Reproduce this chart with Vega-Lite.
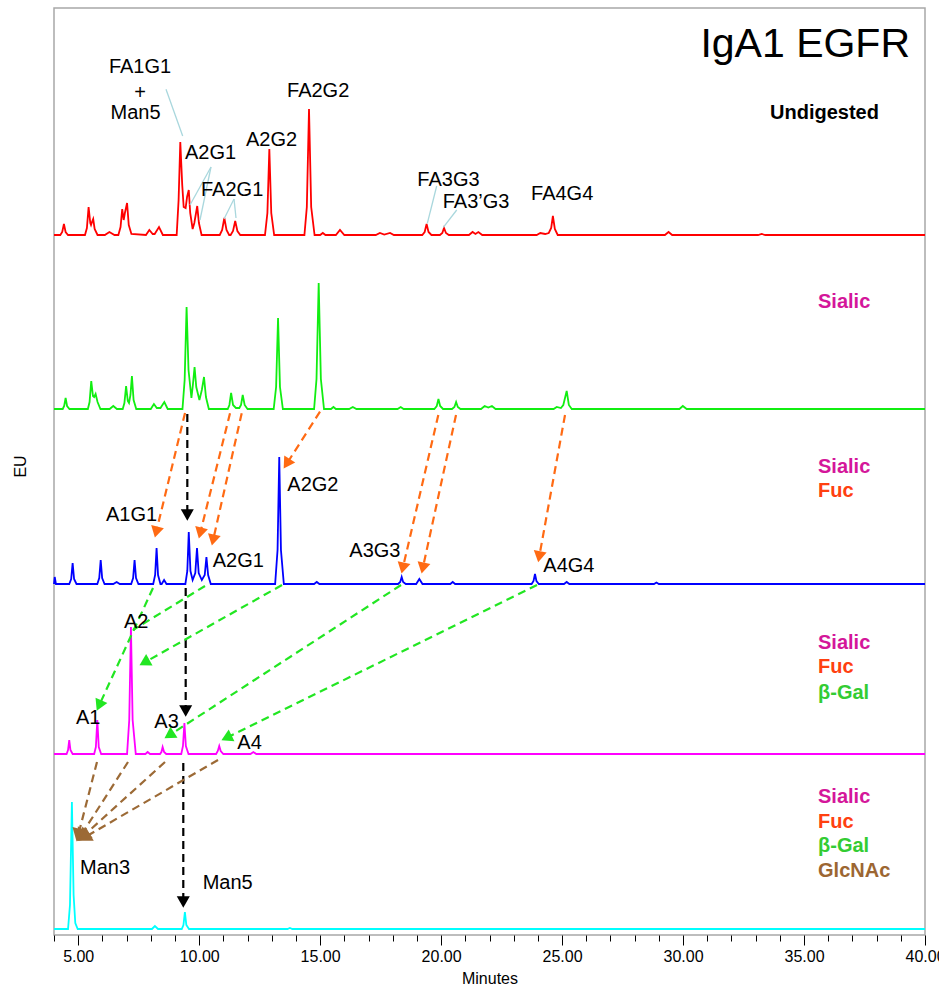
{
"$schema": "https://vega.github.io/schema/vega-lite/v6.json",
"width": 871, "height": 927,
"autosize": {"type": "none"},
"padding": {"left": 54, "top": 8, "right": 14, "bottom": 55},
"background": "white",
"config": {"view": {"stroke": "#a8a8a8", "strokeWidth": 1.5}, "font": "Liberation Sans"},
"datasets": {
"traces": [
{"t":"undigested","x":4.0,"y":700},{"t":"undigested","x":4.26,"y":700},{"t":"undigested","x":4.34,"y":703},{"t":"undigested","x":4.41,"y":711},{"t":"undigested","x":4.48,"y":703},{"t":"undigested","x":4.58,"y":700},
{"t":"undigested","x":5.28,"y":700},{"t":"undigested","x":5.36,"y":707},{"t":"undigested","x":5.43,"y":728},{"t":"undigested","x":5.50,"y":712},{"t":"undigested","x":5.53,"y":710},{"t":"undigested","x":5.57,"y":713},{"t":"undigested","x":5.62,"y":716},{"t":"undigested","x":5.68,"y":706},{"t":"undigested","x":5.80,"y":700},
{"t":"undigested","x":6.10,"y":700},{"t":"undigested","x":6.29,"y":703},{"t":"undigested","x":6.50,"y":700},
{"t":"undigested","x":6.66,"y":700},{"t":"undigested","x":6.75,"y":708},{"t":"undigested","x":6.82,"y":726},{"t":"undigested","x":6.88,"y":715},{"t":"undigested","x":6.93,"y":722},{"t":"undigested","x":7.02,"y":732},{"t":"undigested","x":7.09,"y":710},{"t":"undigested","x":7.20,"y":701},
{"t":"undigested","x":7.80,"y":700},{"t":"undigested","x":7.94,"y":705},{"t":"undigested","x":8.08,"y":701},{"t":"undigested","x":8.16,"y":701},{"t":"undigested","x":8.34,"y":708},{"t":"undigested","x":8.50,"y":700},
{"t":"undigested","x":9.07,"y":700},{"t":"undigested","x":9.15,"y":735},{"t":"undigested","x":9.22,"y":793},{"t":"undigested","x":9.30,"y":750},{"t":"undigested","x":9.36,"y":728},{"t":"undigested","x":9.44,"y":727},{"t":"undigested","x":9.50,"y":738},{"t":"undigested","x":9.57,"y":745},{"t":"undigested","x":9.63,"y":722},{"t":"undigested","x":9.73,"y":706},{"t":"undigested","x":9.80,"y":712},{"t":"undigested","x":9.92,"y":729},{"t":"undigested","x":9.99,"y":712},{"t":"undigested","x":10.10,"y":700},
{"t":"undigested","x":10.85,"y":700},{"t":"undigested","x":10.95,"y":705},{"t":"undigested","x":11.04,"y":717},{"t":"undigested","x":11.13,"y":705},{"t":"undigested","x":11.24,"y":700},{"t":"undigested","x":11.30,"y":700},{"t":"undigested","x":11.40,"y":704},{"t":"undigested","x":11.49,"y":714},{"t":"undigested","x":11.58,"y":704},{"t":"undigested","x":11.70,"y":700},
{"t":"undigested","x":12.72,"y":700},{"t":"undigested","x":12.82,"y":722},{"t":"undigested","x":12.90,"y":786},{"t":"undigested","x":12.98,"y":722},{"t":"undigested","x":13.10,"y":700},
{"t":"undigested","x":14.35,"y":700},{"t":"undigested","x":14.45,"y":728},{"t":"undigested","x":14.54,"y":826},{"t":"undigested","x":14.63,"y":728},{"t":"undigested","x":14.77,"y":700},
{"t":"undigested","x":15.00,"y":700},{"t":"undigested","x":15.11,"y":702},{"t":"undigested","x":15.22,"y":700},{"t":"undigested","x":15.65,"y":700},{"t":"undigested","x":15.82,"y":705},{"t":"undigested","x":16.00,"y":700},
{"t":"undigested","x":17.30,"y":700},{"t":"undigested","x":17.47,"y":702},{"t":"undigested","x":17.65,"y":700.5},{"t":"undigested","x":17.89,"y":702},{"t":"undigested","x":18.05,"y":700},
{"t":"undigested","x":19.22,"y":700},{"t":"undigested","x":19.32,"y":703},{"t":"undigested","x":19.40,"y":711},{"t":"undigested","x":19.48,"y":703},{"t":"undigested","x":19.60,"y":700},
{"t":"undigested","x":19.95,"y":700},{"t":"undigested","x":20.05,"y":702},{"t":"undigested","x":20.12,"y":707},{"t":"undigested","x":20.20,"y":702},{"t":"undigested","x":20.32,"y":700},
{"t":"undigested","x":21.15,"y":700},{"t":"undigested","x":21.30,"y":703},{"t":"undigested","x":21.42,"y":701},{"t":"undigested","x":21.54,"y":703},{"t":"undigested","x":21.70,"y":700},
{"t":"undigested","x":23.95,"y":700},{"t":"undigested","x":24.10,"y":702},{"t":"undigested","x":24.30,"y":701},{"t":"undigested","x":24.45,"y":702},{"t":"undigested","x":24.55,"y":707},{"t":"undigested","x":24.62,"y":719},{"t":"undigested","x":24.70,"y":706},{"t":"undigested","x":24.82,"y":700},
{"t":"undigested","x":29.25,"y":700},{"t":"undigested","x":29.40,"y":703},{"t":"undigested","x":29.55,"y":700},{"t":"undigested","x":33.10,"y":700},{"t":"undigested","x":33.25,"y":701},{"t":"undigested","x":33.40,"y":700},{"t":"undigested","x":40,"y":700},

{"t":"sialic","x":4.0,"y":526},{"t":"sialic","x":4.36,"y":526},{"t":"sialic","x":4.42,"y":529},{"t":"sialic","x":4.48,"y":537},{"t":"sialic","x":4.54,"y":529},{"t":"sialic","x":4.64,"y":526},
{"t":"sialic","x":5.40,"y":526},{"t":"sialic","x":5.47,"y":533},{"t":"sialic","x":5.54,"y":554},{"t":"sialic","x":5.61,"y":539},{"t":"sialic","x":5.66,"y":538},{"t":"sialic","x":5.72,"y":541},{"t":"sialic","x":5.80,"y":533},{"t":"sialic","x":5.92,"y":526},
{"t":"sialic","x":6.30,"y":526},{"t":"sialic","x":6.45,"y":529},{"t":"sialic","x":6.60,"y":526},
{"t":"sialic","x":6.84,"y":526},{"t":"sialic","x":6.91,"y":532},{"t":"sialic","x":6.98,"y":549},{"t":"sialic","x":7.05,"y":534},{"t":"sialic","x":7.10,"y":532},{"t":"sialic","x":7.16,"y":540},{"t":"sialic","x":7.22,"y":559},{"t":"sialic","x":7.29,"y":535},{"t":"sialic","x":7.40,"y":526},
{"t":"sialic","x":8.00,"y":526},{"t":"sialic","x":8.13,"y":531},{"t":"sialic","x":8.25,"y":527},{"t":"sialic","x":8.40,"y":527},{"t":"sialic","x":8.56,"y":533},{"t":"sialic","x":8.70,"y":526},
{"t":"sialic","x":9.31,"y":526},{"t":"sialic","x":9.40,"y":555},{"t":"sialic","x":9.48,"y":628},{"t":"sialic","x":9.56,"y":565},{"t":"sialic","x":9.68,"y":537},{"t":"sialic","x":9.74,"y":550},{"t":"sialic","x":9.81,"y":568},{"t":"sialic","x":9.88,"y":548},{"t":"sialic","x":10.01,"y":535},{"t":"sialic","x":10.11,"y":545},{"t":"sialic","x":10.20,"y":558},{"t":"sialic","x":10.28,"y":538},{"t":"sialic","x":10.40,"y":526},
{"t":"sialic","x":11.18,"y":526},{"t":"sialic","x":11.25,"y":530},{"t":"sialic","x":11.32,"y":542},{"t":"sialic","x":11.40,"y":530},{"t":"sialic","x":11.52,"y":527},{"t":"sialic","x":11.66,"y":527},{"t":"sialic","x":11.73,"y":530},{"t":"sialic","x":11.80,"y":540},{"t":"sialic","x":11.88,"y":530},{"t":"sialic","x":12.00,"y":526},
{"t":"sialic","x":13.08,"y":526},{"t":"sialic","x":13.18,"y":548},{"t":"sialic","x":13.26,"y":617},{"t":"sialic","x":13.34,"y":548},{"t":"sialic","x":13.46,"y":526},
{"t":"sialic","x":14.75,"y":526},{"t":"sialic","x":14.85,"y":556},{"t":"sialic","x":14.94,"y":652},{"t":"sialic","x":15.03,"y":556},{"t":"sialic","x":15.16,"y":526},
{"t":"sialic","x":15.45,"y":526},{"t":"sialic","x":15.55,"y":528},{"t":"sialic","x":15.65,"y":526},{"t":"sialic","x":16.20,"y":526},{"t":"sialic","x":16.35,"y":528},{"t":"sialic","x":16.50,"y":526},
{"t":"sialic","x":18.20,"y":526},{"t":"sialic","x":18.33,"y":528},{"t":"sialic","x":18.45,"y":526},
{"t":"sialic","x":19.72,"y":526},{"t":"sialic","x":19.82,"y":529},{"t":"sialic","x":19.89,"y":536},{"t":"sialic","x":19.96,"y":529},{"t":"sialic","x":20.08,"y":526},
{"t":"sialic","x":20.45,"y":526},{"t":"sialic","x":20.55,"y":528},{"t":"sialic","x":20.62,"y":533},{"t":"sialic","x":20.69,"y":528},{"t":"sialic","x":20.80,"y":526},
{"t":"sialic","x":21.65,"y":526},{"t":"sialic","x":21.80,"y":529},{"t":"sialic","x":21.95,"y":527.5},{"t":"sialic","x":22.10,"y":529},{"t":"sialic","x":22.25,"y":526},
{"t":"sialic","x":24.65,"y":526},{"t":"sialic","x":24.78,"y":528},{"t":"sialic","x":24.95,"y":527},{"t":"sialic","x":25.05,"y":530},{"t":"sialic","x":25.19,"y":544},{"t":"sialic","x":25.28,"y":530},{"t":"sialic","x":25.40,"y":526},
{"t":"sialic","x":29.85,"y":526},{"t":"sialic","x":29.99,"y":529},{"t":"sialic","x":30.15,"y":526},{"t":"sialic","x":40,"y":526},

{"t":"fuc","x":4.0,"y":351},{"t":"fuc","x":4.03,"y":358},{"t":"fuc","x":4.08,"y":351},
{"t":"fuc","x":4.63,"y":351},{"t":"fuc","x":4.71,"y":356},{"t":"fuc","x":4.77,"y":372},{"t":"fuc","x":4.83,"y":356},{"t":"fuc","x":4.93,"y":351},
{"t":"fuc","x":5.79,"y":351},{"t":"fuc","x":5.87,"y":357},{"t":"fuc","x":5.93,"y":375},{"t":"fuc","x":5.99,"y":357},{"t":"fuc","x":6.09,"y":351},
{"t":"fuc","x":6.45,"y":351},{"t":"fuc","x":6.59,"y":353},{"t":"fuc","x":6.72,"y":351},
{"t":"fuc","x":7.19,"y":351},{"t":"fuc","x":7.27,"y":357},{"t":"fuc","x":7.33,"y":375},{"t":"fuc","x":7.39,"y":357},{"t":"fuc","x":7.49,"y":351},
{"t":"fuc","x":8.10,"y":351},{"t":"fuc","x":8.18,"y":360},{"t":"fuc","x":8.24,"y":387},{"t":"fuc","x":8.30,"y":360},{"t":"fuc","x":8.40,"y":351},
{"t":"fuc","x":8.45,"y":351},{"t":"fuc","x":8.55,"y":355},{"t":"fuc","x":8.65,"y":351},
{"t":"fuc","x":9.43,"y":351},{"t":"fuc","x":9.51,"y":364},{"t":"fuc","x":9.57,"y":403},{"t":"fuc","x":9.64,"y":364},{"t":"fuc","x":9.73,"y":355},{"t":"fuc","x":9.84,"y":362},{"t":"fuc","x":9.91,"y":387},{"t":"fuc","x":9.98,"y":362},{"t":"fuc","x":10.11,"y":355},{"t":"fuc","x":10.23,"y":360},{"t":"fuc","x":10.30,"y":378},{"t":"fuc","x":10.37,"y":360},{"t":"fuc","x":10.48,"y":351},
{"t":"fuc","x":13.14,"y":351},{"t":"fuc","x":13.24,"y":385},{"t":"fuc","x":13.31,"y":478},{"t":"fuc","x":13.38,"y":385},{"t":"fuc","x":13.50,"y":351},
{"t":"fuc","x":14.75,"y":351},{"t":"fuc","x":14.86,"y":353},{"t":"fuc","x":14.97,"y":351},
{"t":"fuc","x":18.22,"y":351},{"t":"fuc","x":18.31,"y":353},{"t":"fuc","x":18.37,"y":358},{"t":"fuc","x":18.43,"y":353},{"t":"fuc","x":18.54,"y":351},
{"t":"fuc","x":18.97,"y":351},{"t":"fuc","x":19.10,"y":356},{"t":"fuc","x":19.23,"y":351},
{"t":"fuc","x":20.38,"y":351},{"t":"fuc","x":20.48,"y":353},{"t":"fuc","x":20.58,"y":351},
{"t":"fuc","x":23.74,"y":351},{"t":"fuc","x":23.82,"y":354},{"t":"fuc","x":23.88,"y":361},{"t":"fuc","x":23.94,"y":354},{"t":"fuc","x":24.04,"y":351},
{"t":"fuc","x":25.08,"y":351},{"t":"fuc","x":25.19,"y":353},{"t":"fuc","x":25.30,"y":351},
{"t":"fuc","x":28.80,"y":351},{"t":"fuc","x":28.90,"y":352.5},{"t":"fuc","x":29.00,"y":351},{"t":"fuc","x":40,"y":351},

{"t":"bgal","x":4.0,"y":181},{"t":"bgal","x":4.52,"y":181},{"t":"bgal","x":4.58,"y":185},{"t":"bgal","x":4.63,"y":195},{"t":"bgal","x":4.68,"y":185},{"t":"bgal","x":4.77,"y":181},
{"t":"bgal","x":5.66,"y":181},{"t":"bgal","x":5.73,"y":188},{"t":"bgal","x":5.79,"y":215},{"t":"bgal","x":5.85,"y":188},{"t":"bgal","x":5.95,"y":181},
{"t":"bgal","x":7.02,"y":181},{"t":"bgal","x":7.11,"y":215},{"t":"bgal","x":7.18,"y":308},{"t":"bgal","x":7.25,"y":215},{"t":"bgal","x":7.38,"y":181},
{"t":"bgal","x":7.78,"y":181},{"t":"bgal","x":7.87,"y":183},{"t":"bgal","x":7.97,"y":181},
{"t":"bgal","x":8.38,"y":181},{"t":"bgal","x":8.44,"y":183},{"t":"bgal","x":8.49,"y":188},{"t":"bgal","x":8.55,"y":183},{"t":"bgal","x":8.64,"y":181},
{"t":"bgal","x":9.26,"y":181},{"t":"bgal","x":9.33,"y":189},{"t":"bgal","x":9.39,"y":212},{"t":"bgal","x":9.45,"y":189},{"t":"bgal","x":9.56,"y":181},
{"t":"bgal","x":10.70,"y":181},{"t":"bgal","x":10.77,"y":184},{"t":"bgal","x":10.83,"y":189},{"t":"bgal","x":10.89,"y":184},{"t":"bgal","x":11.00,"y":181},
{"t":"bgal","x":12.12,"y":181},{"t":"bgal","x":12.24,"y":183},{"t":"bgal","x":12.36,"y":181},{"t":"bgal","x":40,"y":181},

{"t":"glcnac","x":4.0,"y":6},{"t":"glcnac","x":4.58,"y":6},{"t":"glcnac","x":4.66,"y":30},{"t":"glcnac","x":4.74,"y":133},{"t":"glcnac","x":4.81,"y":40},{"t":"glcnac","x":4.88,"y":12},{"t":"glcnac","x":4.98,"y":6},
{"t":"glcnac","x":8.05,"y":6},{"t":"glcnac","x":8.17,"y":9},{"t":"glcnac","x":8.30,"y":6},
{"t":"glcnac","x":9.28,"y":6},{"t":"glcnac","x":9.35,"y":10},{"t":"glcnac","x":9.41,"y":23},{"t":"glcnac","x":9.47,"y":10},{"t":"glcnac","x":9.58,"y":6},
{"t":"glcnac","x":13.65,"y":6},{"t":"glcnac","x":13.75,"y":7},{"t":"glcnac","x":13.85,"y":6},{"t":"glcnac","x":40,"y":6}
],
"leaders": [
{"x":8.629,"y":845.7,"x2":9.319,"y2":799},
{"x":10.489,"y":768,"x2":9.621,"y2":730},
{"x":10.489,"y":768,"x2":10.034,"y2":715},
{"x":11.440,"y":736,"x2":11.027,"y2":716},
{"x":11.440,"y":736,"x2":11.523,"y2":717},
{"x":19.818,"y":749,"x2":19.430,"y2":711.7},
{"x":20.645,"y":725,"x2":20.091,"y2":707.7}
],
"arrows": [
{"g":"Fuc","x":9.415,"y":522,"x2":8.224,"y2":402.9,"head":true},
{"g":"Fuc","x":11.275,"y":521.7,"x2":10.043,"y2":401.9,"head":true},
{"g":"Fuc","x":11.758,"y":521.7,"x2":10.576,"y2":394.9,"head":true},
{"g":"Fuc","x":14.994,"y":523.3,"x2":13.618,"y2":471.2,"head":true},
{"g":"Fuc","x":19.884,"y":520,"x2":18.416,"y2":366.9,"head":true},
{"g":"Fuc","x":20.616,"y":520,"x2":19.243,"y2":366.9,"head":true},
{"g":"Fuc","x":25.121,"y":520,"x2":24.054,"y2":378.2,"head":true},
{"g":"Man5","x":9.510,"y":521,"x2":9.510,"y2":420,"head":true},
{"g":"Man5","x":9.443,"y":347,"x2":9.443,"y2":224,"head":true},
{"g":"Man5","x":9.344,"y":172,"x2":9.344,"y2":33,"head":true},
{"g":"bGal","x":8.092,"y":347,"x2":5.864,"y2":229.5,"head":true},
{"g":"bGal","x":10.241,"y":349,"x2":7.265,"y2":305,"head":false},
{"g":"bGal","x":13.424,"y":350,"x2":7.737,"y2":272.5,"head":true},
{"g":"bGal","x":18.343,"y":350,"x2":8.762,"y2":199.7,"head":true},
{"g":"bGal","x":23.964,"y":350,"x2":11.130,"y2":197.2,"head":true},
{"g":"GlcNAc","x":5.777,"y":173,"x2":5.000,"y2":99.8,"head":true},
{"g":"GlcNAc","x":7.059,"y":173,"x2":5.104,"y2":99.2,"head":true},
{"g":"GlcNAc","x":8.588,"y":173,"x2":5.186,"y2":98.4,"head":true},
{"g":"GlcNAc","x":10.779,"y":175,"x2":5.252,"y2":97.5,"head":true}
],
"peakLabels": [
{"x":9.414,"y":776,"text":"A2G1"},
{"x":10.076,"y":739.3,"text":"FA2G1"},
{"x":11.936,"y":789.3,"text":"A2G2"},
{"x":13.631,"y":838.3,"text":"FA2G2"},
{"x":19.016,"y":749,"text":"FA3G3"},
{"x":20.066,"y":726.7,"text":"FA3’G3"},
{"x":23.716,"y":735,"text":"FA4G4"},
{"x":6.149,"y":414.3,"text":"A1G1"},
{"x":13.643,"y":444.3,"text":"A2G2"},
{"x":10.559,"y":368.3,"text":"A2G1"},
{"x":16.205,"y":377.7,"text":"A3G3"},
{"x":24.224,"y":363.3,"text":"A4G4"},
{"x":4.909,"y":210.7,"text":"A1"},
{"x":6.893,"y":306.7,"text":"A2"},
{"x":8.146,"y":206.7,"text":"A3"},
{"x":11.576,"y":185.7,"text":"A4"},
{"x":5.075,"y":60.7,"text":"Man3"},
{"x":10.146,"y":45.7,"text":"Man5"}
],
"centerLabels": [
{"x":7.555,"y":862.3,"text":"FA1G1"},
{"x":7.555,"y":836,"text":"+"},
{"x":7.369,"y":816,"text":"Man5"}
],
"titleText": [{"x":39.381,"y":878,"text":"IgA1 EGFR"}],
"conditions": [
{"x":33.594,"y":816.3,"text":"Undigested"},
{"x":35.578,"y":627,"text":"Sialic"},
{"x":35.578,"y":462.3,"text":"Sialic"},
{"x":35.578,"y":437.7,"text":"Fuc"},
{"x":35.578,"y":285.7,"text":"Sialic"},
{"x":35.578,"y":261.7,"text":"Fuc"},
{"x":35.578,"y":236.3,"text":"β-Gal"},
{"x":35.578,"y":132.3,"text":"Sialic"},
{"x":35.578,"y":107.3,"text":"Fuc"},
{"x":35.578,"y":82.7,"text":"β-Gal"},
{"x":35.578,"y":57.7,"text":"GlcNAc"}
]
},
"encoding": {
"x": {"field": "x", "type": "quantitative",
  "scale": {"domain": [4, 40], "nice": false, "zero": false},
  "axis": {"title": "Minutes", "values": [4,5,6,7,8,9,10,11,12,13,14,15,16,17,18,19,20,21,22,23,24,25,26,27,28,29,30,31,32,33,34,35,36,37,38,39,40],
    "labelExpr": "datum.value % 5 === 0 ? format(datum.value, '.2f') : ''",
    "tickSize": {"condition": {"test": "datum.value % 5 === 0", "value": 10}, "value": 6},
    "tickColor": "#000000", "tickWidth": 1, "domain": false, "grid": false,
    "labelFont": "Liberation Sans", "labelFontSize": 16, "labelColor": "#000000", "labelPadding": 3,
    "labelOverlap": false, "labelFlush": false,
    "titleFont": "Liberation Sans", "titleFontSize": 16, "titleFontWeight": "normal", "titleColor": "#000000", "titlePadding": 6}},
"y": {"field": "y", "type": "quantitative",
  "scale": {"domain": [0, 927], "nice": false, "zero": false},
  "axis": {"title": "EU", "labels": false, "ticks": false, "domain": false, "grid": false,
    "titleFont": "Liberation Sans", "titleFontSize": 16, "titleFontWeight": "normal", "titleColor": "#000000", "titlePadding": 26, "titleY": 458}}
},
"layer": [
{"data": {"name": "traces"}, "mark": {"type": "line", "strokeWidth": 1.8},
 "encoding": {"color": {"field": "t", "type": "nominal", "legend": null,
   "scale": {"domain": ["undigested","sialic","fuc","bgal","glcnac"], "range": ["#ff0000","#11ee11","#0000ff","#ff00ff","#00ffff"]}}}},
{"data": {"name": "leaders"}, "mark": {"type": "rule", "color": "#a9d7dd", "strokeWidth": 1.3},
 "encoding": {"x2": {"field": "x2"}, "y2": {"field": "y2"}}},
{"data": {"name": "arrows"}, "mark": {"type": "rule", "strokeWidth": 2.2, "strokeDash": [8, 5]},
 "encoding": {"x2": {"field": "x2"}, "y2": {"field": "y2"},
   "color": {"field": "g", "type": "nominal", "legend": null,
   "scale": {"domain": ["Fuc","Man5","bGal","GlcNAc"], "range": ["#ff6a13","#000000","#22e622","#9c6a36"]}}}},
{"data": {"name": "arrows"},
 "transform": [{"filter": "datum.head"}, {"calculate": "atan2((datum.x2 - datum.x) * 24.194, datum.y2 - datum.y) * 180 / PI", "as": "ang"}],
 "mark": {"type": "point", "shape": "triangle-up", "filled": true, "opacity": 1},
 "encoding": {"x": {"field": "x2", "type": "quantitative"}, "y": {"field": "y2", "type": "quantitative"},
   "angle": {"field": "ang", "type": "quantitative", "scale": null},
   "size": {"condition": {"test": "datum.g === 'GlcNAc'", "value": 230}, "value": 170},
   "color": {"field": "g", "type": "nominal", "legend": null,
   "scale": {"domain": ["Fuc","Man5","bGal","GlcNAc"], "range": ["#ff6a13","#000000","#22e622","#9c6a36"]}}}},
{"data": {"name": "peakLabels"}, "mark": {"type": "text", "align": "left", "baseline": "alphabetic", "font": "Liberation Sans", "fontSize": 20, "color": "#000000"},
 "encoding": {"text": {"field": "text"}}},
{"data": {"name": "centerLabels"}, "mark": {"type": "text", "align": "center", "baseline": "alphabetic", "font": "Liberation Sans", "fontSize": 20, "color": "#000000"},
 "encoding": {"text": {"field": "text"}}},
{"data": {"name": "titleText"}, "mark": {"type": "text", "align": "right", "baseline": "alphabetic", "font": "Liberation Sans", "fontSize": 41, "color": "#000000"},
 "encoding": {"text": {"field": "text"}}},
{"data": {"name": "conditions"}, "mark": {"type": "text", "align": "left", "baseline": "alphabetic", "font": "Liberation Sans", "fontSize": 20, "fontWeight": "bold"},
 "encoding": {"text": {"field": "text"},
   "color": {"field": "text", "type": "nominal", "legend": null,
   "scale": {"domain": ["Undigested","Sialic","Fuc","β-Gal","GlcNAc"], "range": ["#000000","#d4169a","#ff4010","#33cc33","#9c6632"]}}}}
],
"resolve": {"scale": {"color": "independent"}}
}
